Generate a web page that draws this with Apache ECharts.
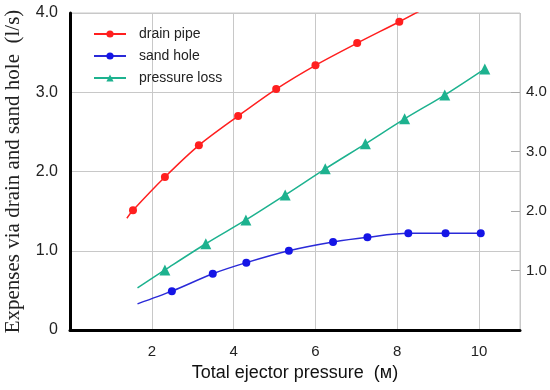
<!DOCTYPE html>
<html>
<head>
<meta charset="utf-8">
<script src="https://cdn.jsdelivr.net/npm/echarts@6/dist/echarts.min.js"></script>
<style>html,body{margin:0;padding:0;background:#fff}#c{width:550px;height:390px}</style>
</head>
<body>
<div id="c"></div>
<script>
// Data (x = total ejector pressure, м)
const xTicks = [2, 4, 6, 8, 10];
const leftTicks = [1.0, 2.0, 3.0, 4.0];
const rightTicks = [1.0, 2.0, 3.0, 4.0];

// drain pipe (left axis, l/s); unmarked points are curve ends
const drainX = [1.39, 1.54, 2.32, 3.15, 4.11, 5.04, 6.00, 7.02, 8.05, 8.60];
const drainY = [1.41, 1.51, 1.93, 2.33, 2.70, 3.04, 3.34, 3.62, 3.89, 4.04];
const drainMarked = [false, true, true, true, true, true, true, true, true, false];

// sand hole (left axis, l/s)
const sandX = [1.65, 2.49, 3.49, 4.31, 5.35, 6.43, 7.27, 8.27, 9.18, 10.04];
const sandY = [0.33, 0.49, 0.71, 0.85, 1.00, 1.11, 1.17, 1.22, 1.22, 1.22];
const sandMarked = [false, true, true, true, true, true, true, true, true, true];

// pressure loss (right axis)
const lossX = [1.65, 2.32, 3.32, 4.30, 5.26, 6.24, 7.22, 8.18, 9.16, 10.14];
const lossY = [0.71, 1.01, 1.45, 1.85, 2.27, 2.71, 3.13, 3.55, 3.95, 4.39];
const lossMarked = [false, true, true, true, true, true, true, true, true, true];

function pts(xs, ys, marked) {
  return xs.map((x, i) => marked[i] ? [x, ys[i]] : { value: [x, ys[i]], symbol: 'none' });
}

const chart = echarts.init(document.getElementById('c'), null, { renderer: 'canvas' });
const sans = 'Liberation Sans, Arial, sans-serif';
chart.setOption({
  animation: false,
  backgroundColor: '#fff',
  grid: { left: 70, right: 30, top: 13, bottom: 60, containLabel: false, outerBoundsMode: 'none',
    show: true, borderColor: '#c8c8c8', borderWidth: 1 },
  legend: {
    orient: 'vertical', left: 88, top: 22, itemWidth: 32, itemHeight: 9, itemGap: 8,
    textStyle: { fontFamily: sans, fontSize: 14, color: '#222', padding: [0, 0, 0, 8] },
    data: ['drain pipe', 'sand hole', 'pressure loss']
  },
  xAxis: {
    type: 'value', min: 0, max: 11, interval: 2,
    name: 'Total ejector pressure  (м)', nameLocation: 'middle', nameGap: 30,
    nameTextStyle: { fontFamily: sans, fontSize: 18, color: '#111' },
    axisLine: { show: true, onZero: false, lineStyle: { color: '#000', width: 3 } },
    axisTick: { show: false },
    axisLabel: { margin: 14, fontFamily: sans, fontSize: 15, color: '#222',
      formatter: v => xTicks.includes(v) ? String(v) : '' },
    splitLine: { show: true, lineStyle: { color: '#c8c8c8', width: 1 } }
  },
  yAxis: [{
    type: 'value', min: 0, max: 4, interval: 1,
    name: 'Expenses via drain and sand hole  (l/s)', nameLocation: 'middle', nameGap: 46,
    nameTextStyle: { fontFamily: 'Liberation Serif, Times New Roman, serif', fontSize: 21, color: '#222' },
    axisLine: { show: true, onZero: false, lineStyle: { color: '#000', width: 3 } },
    axisTick: { show: false },
    axisLabel: { margin: 12, fontFamily: sans, fontSize: 16, color: '#222',
      formatter: v => v === 0 ? '0' : (leftTicks.includes(v) ? v.toFixed(1) : '') },
    splitLine: { show: true, lineStyle: { color: '#c8c8c8', width: 1 } }
  }, {
    type: 'value', min: 0, max: 5.33, interval: 1, position: 'right',
    axisLine: { show: false, onZero: false },
    axisTick: { show: true, inside: true, length: 9, customValues: rightTicks, lineStyle: { color: '#aaa' } },
    axisLabel: { margin: 6, fontFamily: sans, fontSize: 15, color: '#222', customValues: rightTicks,
      formatter: v => v.toFixed(1) },
    splitLine: { show: false }
  }],
  series: [{
    name: 'drain pipe', type: 'line', yAxisIndex: 0, smooth: 0.3, clip: true,
    symbol: 'circle', symbolSize: 8, showAllSymbol: true,
    itemStyle: { color: '#ff1f1f' }, lineStyle: { color: '#ff1f1f', width: 1.5 },
    data: pts(drainX, drainY, drainMarked)
  }, {
    name: 'sand hole', type: 'line', yAxisIndex: 0, smooth: 0.3,
    symbol: 'circle', symbolSize: 8, showAllSymbol: true,
    itemStyle: { color: '#1515e6' }, lineStyle: { color: '#2a2ad8', width: 1.5 },
    data: pts(sandX, sandY, sandMarked)
  }, {
    name: 'pressure loss', type: 'line', yAxisIndex: 1, smooth: 0.3,
    symbol: 'triangle', symbolSize: 11, showAllSymbol: true,
    itemStyle: { color: '#1db28f' }, lineStyle: { color: '#1db28f', width: 1.5 },
    data: pts(lossX, lossY, lossMarked)
  }]
});
</script>
</body>
</html>
